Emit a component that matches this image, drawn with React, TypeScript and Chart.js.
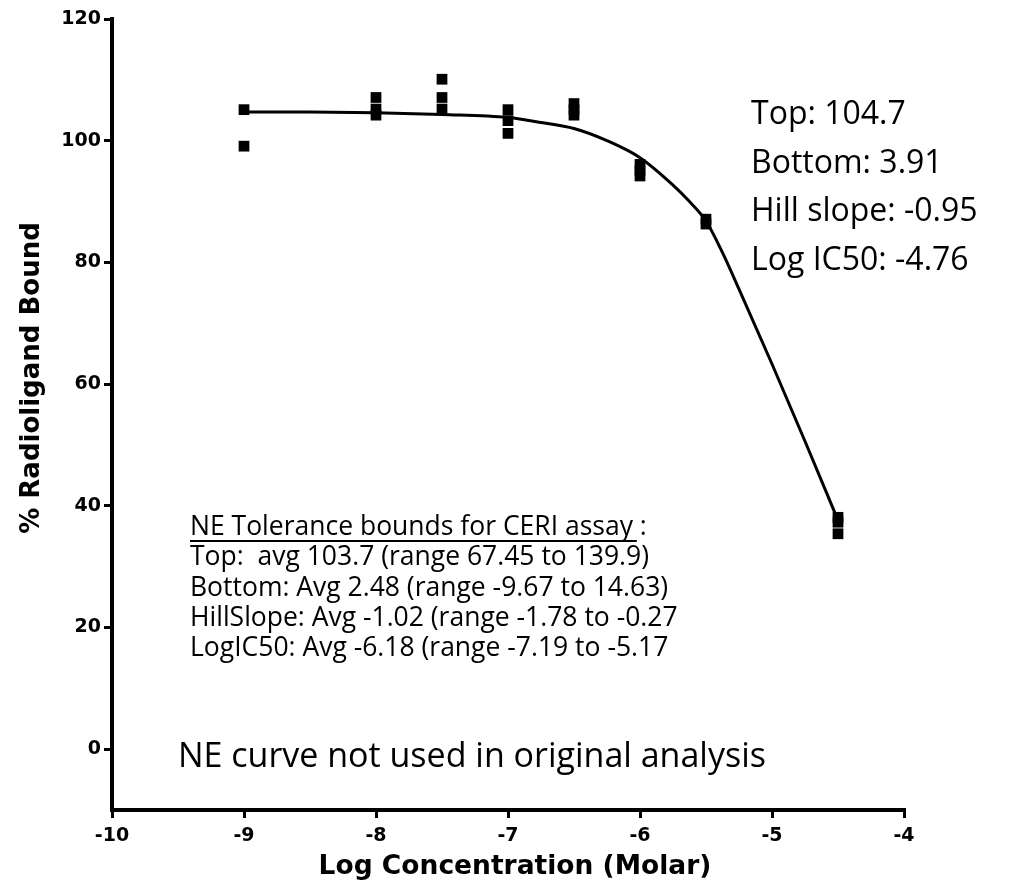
import React, { useEffect, useRef } from "react";
import { Chart, registerables } from "chart.js";

Chart.register(...registerables);

// ---- data ----
const LOG_CONC = [-9, -8, -7.5, -7, -6.5, -6, -5.5, -4.5];
const REP_A = [105.1, 107.1, 110.1, 105.1, 106.1, 96.1, 87.1, 38.1];
const REP_B = [99.1, 105.2, 107.1, 103.3, 105.1, 95.1, 86.3, 37.3];
const REP_C: (number | null)[] = [null, 104.2, 105.2, 101.2, 104.2, 94.2, null, 35.4];

const CURVE_X = [-9, -8.5, -8, -7.5, -7, -6.75, -6.5, -6.25, -6, -5.75, -5.625, -5.5, -5.375, -5.25, -5, -4.75, -4.5];
const CURVE_Y = [104.7, 104.7, 104.6, 104.3, 103.8, 103.0, 102.0, 100.0, 97.2, 92.7, 90.0, 86.8, 81.6, 75.6, 63.3, 50.6, 37.6];

const X_TICKS = [-10, -9, -8, -7, -6, -5, -4];
const Y_TICKS = [0, 20, 40, 60, 80, 100, 120];

const X_TITLE = "Log Concentration (Molar)";
const Y_TITLE = "% Radioligand Bound";

const FIT_LINES = ["Top: 104.7", "Bottom: 3.91", "Hill slope: -0.95", "Log IC50: -4.76"];
const BOUNDS_TITLE = "NE Tolerance bounds for CERI assay ";
const BOUNDS_TITLE_TAIL = ":";
const BOUNDS_LINES = [
  "Top:  avg 103.7 (range 67.45 to 139.9)",
  "Bottom: Avg 2.48 (range -9.67 to 14.63)",
  "HillSlope: Avg -1.02 (range -1.78 to -0.27",
  "LogIC50: Avg -6.18 (range -7.19 to -5.17",
];
const NOTE = "NE curve not used in original analysis";

const pts = (ys: (number | null)[]) =>
  LOG_CONC.map((x, i) => ({ x, y: ys[i] })).filter((p) => p.y !== null) as { x: number; y: number }[];

const textPlugin = {
  id: "annotText",
  afterDraw(chart: any) {
    const ctx = chart.ctx as CanvasRenderingContext2D;
    ctx.save();
    ctx.fillStyle = "#000";

    // axis titles
    ctx.font = "bold 26.5px 'DejaVu Sans', sans-serif";
    ctx.textAlign = "center";
    ctx.textBaseline = "middle";
    ctx.fillText(X_TITLE, 515, 867);
    ctx.save();
    ctx.translate(32, 378);
    ctx.rotate(-Math.PI / 2);
    ctx.font = "bold 26px 'DejaVu Sans', sans-serif";
    ctx.fillText(Y_TITLE, 0, 0);
    ctx.restore();

    ctx.textAlign = "left";
    ctx.textBaseline = "alphabetic";

    // fit parameters (upper right)
    ctx.font = "32px 'Open Sans', sans-serif";
    FIT_LINES.forEach((t, i) => ctx.fillText(t, 751, 124 + i * 48.5));

    // tolerance bounds block
    ctx.font = "26.5px 'Open Sans', sans-serif";
    const x0 = 190;
    const y0 = 535;
    ctx.fillText(BOUNDS_TITLE, x0, y0);
    const w = ctx.measureText(BOUNDS_TITLE).width;
    ctx.fillText(BOUNDS_TITLE_TAIL, x0 + w, y0);
    ctx.fillRect(x0, y0 + 5, w - 3, 2);
    BOUNDS_LINES.forEach((t, i) => ctx.fillText(t, x0, y0 + (i + 1) * 30.3));

    // note
    ctx.font = "34px 'Open Sans', sans-serif";
    ctx.fillText(NOTE, 178, 767);
    ctx.restore();
  },
};

export default function App() {
  const ref = useRef<HTMLCanvasElement | null>(null);

  useEffect(() => {
    if (!ref.current) return;
    const tickFont = { family: "'DejaVu Sans', sans-serif", weight: "bold" as const, size: 19 };
    const pointStyle = {
      type: "scatter" as const,
      pointStyle: "rect" as const,
      pointRadius: 7.6,
      backgroundColor: "#000",
      borderColor: "#000",
      borderWidth: 0,
      showLine: false,
    };
    const chart = new Chart(ref.current, {
      type: "scatter",
      data: {
        datasets: [
          {
            type: "line" as const,
            label: "fit",
            data: CURVE_X.map((x, i) => ({ x, y: CURVE_Y[i] })),
            borderColor: "#000",
            borderWidth: 3,
            pointRadius: 0,
            fill: false,
            cubicInterpolationMode: "monotone" as const,
          },
          { ...pointStyle, label: "A", data: pts(REP_A) },
          { ...pointStyle, label: "B", data: pts(REP_B) },
          { ...pointStyle, label: "C", data: pts(REP_C) },
        ] as any,
      },
      options: {
        responsive: false,
        animation: false,
        devicePixelRatio: 1,
        layout: { padding: { left: 0, top: 19, right: 118, bottom: 0 } },
        plugins: { legend: { display: false }, tooltip: { enabled: false } },
        scales: {
          x: {
            type: "linear",
            min: -10,
            max: -4,
            afterBuildTicks: (s: any) => {
              s.ticks = X_TICKS.map((v) => ({ value: v }));
            },
            afterFit: (s: any) => {
              s.height = 85;
            },
            border: { display: true, color: "#000", width: 4 },
            grid: { drawOnChartArea: false, color: "#000", lineWidth: 3, tickLength: 8 },
            ticks: { color: "#000", font: tickFont, padding: 7, maxRotation: 0, autoSkip: false },
            title: { display: false },
          },
          y: {
            type: "linear",
            min: -10,
            max: 120,
            afterBuildTicks: (s: any) => {
              s.ticks = Y_TICKS.map((v) => ({ value: v }));
            },
            afterFit: (s: any) => {
              s.width = 112;
            },
            border: { display: true, color: "#000", width: 4 },
            grid: { drawOnChartArea: false, color: "#000", lineWidth: 3, tickLength: 8 },
            ticks: { color: "#000", font: tickFont, padding: 3, autoSkip: false },
            title: { display: false },
          },
        },
      },
      plugins: [textPlugin],
    });
    return () => chart.destroy();
  }, []);

  return (
    <div style={{ position: "fixed", left: 0, top: 0, width: 1022, height: 895, background: "#fff" }}>
      <canvas ref={ref} width={1022} height={895} style={{ display: "block" }} />
    </div>
  );
}
